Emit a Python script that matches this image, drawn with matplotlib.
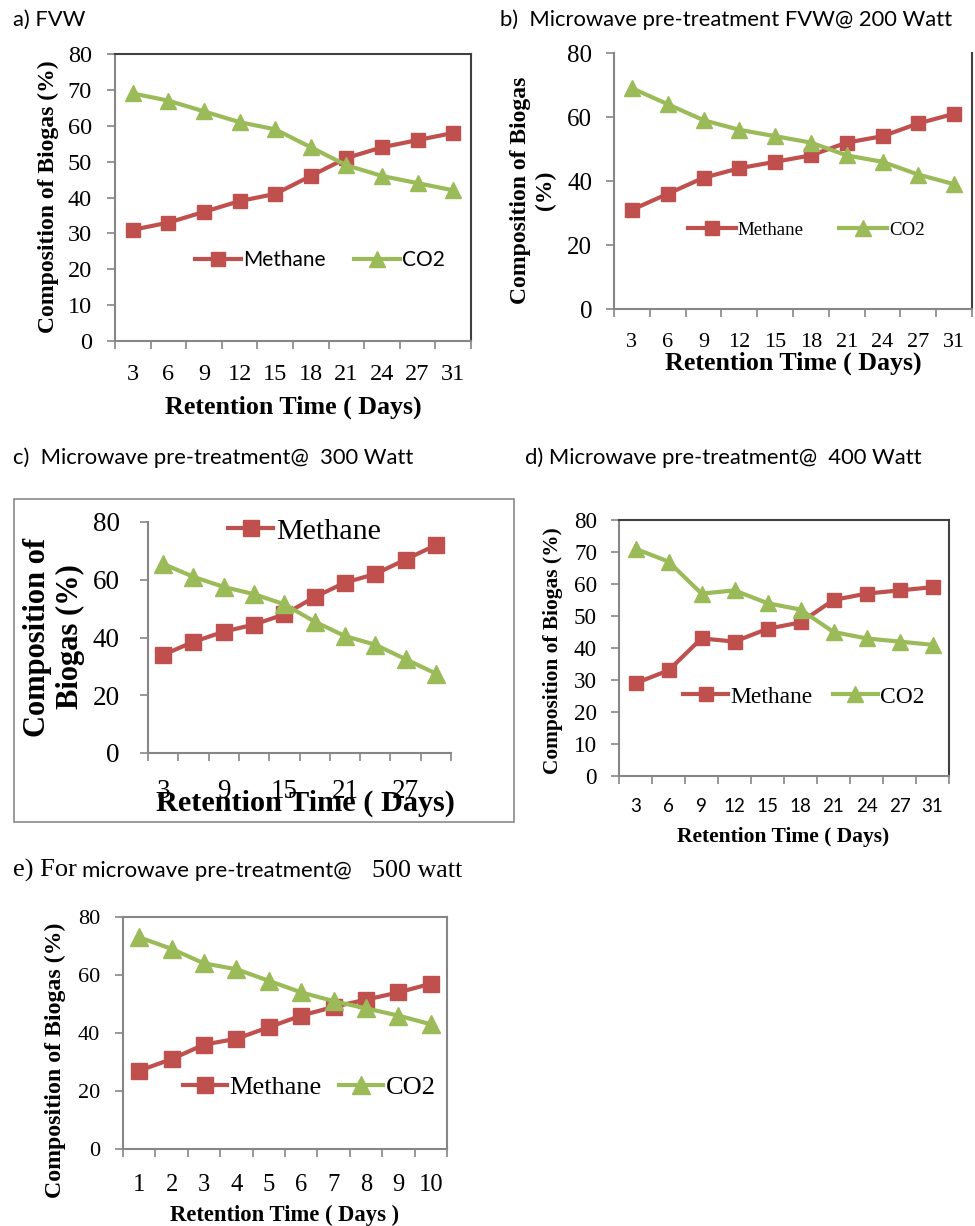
import matplotlib
matplotlib.use('Agg')
import matplotlib.pyplot as plt
from matplotlib.patches import Rectangle

W, H = 975, 1226
SERIF = 'Liberation Serif'
SANS = 'Lato'
RED, GREEN = '#C0504D', '#9BBB59'
AXC = '#868686'
BORDER = '#404040'

# data
days = ['3', '6', '9', '12', '15', '18', '21', '24', '27', '31']
days_c = ['3', '', '9', '', '15', '', '21', '', '27', '']
days_e = ['1', '2', '3', '4', '5', '6', '7', '8', '9', '10']

methane_a = [31, 33, 36, 39, 41, 46, 51, 54, 56, 58]
co2_a = [69, 67, 64, 61, 59, 54, 49, 46, 44, 42]
methane_b = [31, 36, 41, 44, 46, 48, 52, 54, 58, 61]
co2_b = [69, 64, 59, 56, 54, 52, 48, 46, 42, 39]
methane_c = [34, 38.5, 42, 44.5, 48, 54, 59, 62, 67, 72]
co2_c = [65.5, 61, 57.5, 55, 51.5, 45.5, 40.5, 37.5, 32.5, 27.5]
methane_d = [29, 33, 43, 42, 46, 48, 55, 57, 58, 59]
co2_d = [71, 67, 57, 58, 54, 52, 45, 43, 42, 41]
methane_e = [27, 31, 36, 38, 42, 46, 49, 51.5, 54, 57]
co2_e = [73, 69, 64, 62, 58, 54, 51, 48.5, 46, 43]

fig = plt.figure(figsize=(W / 100, H / 100), dpi=100)


def px_axes(x0, y0, x1, y1):
    return fig.add_axes([x0 / W, 1 - y1 / H, (x1 - x0) / W, (y1 - y0) / H])


def ftext(x, y, s, **kw):
    fig.text(x / W, 1 - y / H, s, **kw)


def panel(box, labels, meth, co2, ystep, ytick_fs, xtick_fs, xtick_family, ypad, xpad, ms,
          border=None):
    ax = px_axes(*box)
    n = len(labels)
    x = list(range(1, n + 1))
    ax.plot(x, meth, color=RED, lw=3, marker='s', ms=ms, label='Methane', zorder=3)
    ax.plot(x, co2, color=GREEN, lw=3, marker='^', ms=ms + 1.5, label='CO2', zorder=4)
    ax.set_xlim(0.5, n + 0.5)
    ax.set_ylim(0, 80)
    ax.set_xticks([i + 0.5 for i in range(n + 1)])
    ax.set_xticklabels([])
    ax.set_xticks(x, minor=True)
    ax.set_xticklabels(labels, minor=True, fontsize=xtick_fs, family=xtick_family)
    ax.tick_params(axis='x', which='major', length=5.8, width=1.2, color=AXC, direction='out')
    ax.tick_params(axis='x', which='minor', length=0, pad=xpad)
    ax.set_yticks(range(0, 81, ystep))
    ax.set_yticklabels([str(v) for v in range(0, 81, ystep)], fontsize=ytick_fs, family=SERIF)
    ax.tick_params(axis='y', length=5.8, width=1.2, color=AXC, pad=ypad)
    for s in ['left', 'bottom']:
        ax.spines[s].set_color(AXC)
        ax.spines[s].set_linewidth(1.5)
    for s in ['top', 'right']:
        if border and s in border:
            ax.spines[s].set_color(border[s])
            ax.spines[s].set_linewidth(1.5)
        else:
            ax.spines[s].set_visible(False)
    return ax


def legend(ax, x_left, y_center, fs, family, handle_px, col_px, which=('Methane', 'CO2')):
    em = fs / 72 * 100
    h, l = ax.get_legend_handles_labels()
    keep = [(hh, ll) for hh, ll in zip(h, l) if ll in which]
    ax.legend([k[0] for k in keep], [k[1] for k in keep], loc='center left',
              bbox_to_anchor=(x_left / W, 1 - y_center / H), bbox_transform=fig.transFigure,
              frameon=False, prop={'family': family, 'size': fs}, handlelength=handle_px / em,
              handletextpad=0.1, columnspacing=col_px / em, borderpad=0, borderaxespad=0,
              ncol=2, numpoints=1)


TITLE_FS = 15.8

# a) FVW
ax = panel((115, 54, 471, 341), days, methane_a, co2_a, 10, 17.5, 17.5, SERIF, 10.8, 16.5, 10.5,
           border={'top': BORDER, 'right': BORDER})
legend(ax, 195, 260, 15, SANS, 46, 28)
ftext(13, 20, 'a) FVW', family=SANS, fontsize=TITLE_FS, va='center')
ftext(48, 197, 'Composition of Biogas (%)', family=SERIF, weight='bold', fontsize=17,
      rotation=90, ha='center', va='center')
ftext(293, 407, 'Retention Time ( Days)', family=SERIF, weight='bold', fontsize=18.7,
      ha='center', va='center')

# b) 200 W
ax = panel((614, 53, 972, 309), days, methane_b, co2_b, 20, 18, 16, SERIF, 10, 17, 10.5,
           border={'right': BORDER})
legend(ax, 688, 230, 13.6, SERIF, 48, 35)
ftext(500, 20, 'b)  Microwave pre-treatment FVW@ 200 Watt', family=SANS, fontsize=TITLE_FS,
      va='center')
ftext(533, 190, 'Composition of Biogas\n(%)', family=SERIF, weight='bold', fontsize=17,
      rotation=90, ha='center', va='center', linespacing=1.25, multialignment='center')
ftext(793, 363, 'Retention Time ( Days)', family=SERIF, weight='bold', fontsize=18.7,
      ha='center', va='center')

# c) 300 W
fig.patches.append(Rectangle((14 / W, 1 - 822 / H), 500 / W, 323 / H, transform=fig.transFigure,
                             fill=False, edgecolor='#8a8a8a', lw=1.2))
ax = panel((148, 522, 451, 753), days_c, methane_c, co2_c, 20, 19.5, 19.5, SERIF, 14.4, 18.7, 12)
legend(ax, 228, 531, 21.6, SERIF, 45, 20, which=('Methane',))
ftext(13, 458, 'c)  Microwave pre-treatment@  300 Watt', family=SANS, fontsize=TITLE_FS,
      va='center')
ftext(54, 637, 'Composition of\nBiogas (%)', family=SERIF, weight='bold', fontsize=22,
      rotation=90, ha='center', va='center', linespacing=1.15, multialignment='center')
ftext(305, 803, 'Retention Time ( Days)', family=SERIF, weight='bold', fontsize=21.8,
      ha='center', va='center')

# d) 400 W
ax = panel((619, 520, 949, 776), days, methane_d, co2_d, 10, 16.7, 13.5, SANS, 10, 16, 10.5,
           border={'top': BORDER, 'right': BORDER})
legend(ax, 683, 697, 16.9, SERIF, 45, 20)
ftext(525, 458, 'd) Microwave pre-treatment@  400 Watt', family=SANS, fontsize=TITLE_FS,
      va='center')
ftext(553, 651, 'Composition of Biogas (%)', family=SERIF, weight='bold', fontsize=15.4,
      rotation=90, ha='center', va='center')
ftext(783, 837, 'Retention Time ( Days)', family=SERIF, weight='bold', fontsize=15.5,
      ha='center', va='center')

# e) 500 W
ax = panel((123, 917, 447, 1149), days_e, methane_e, co2_e, 20, 16, 17.7, SERIF, 10.8, 18, 11,
           border={'top': AXC, 'right': AXC})
legend(ax, 183, 1087, 19, SERIF, 44, 17)
ftext(13, 877, 'e) For', family=SERIF, fontsize=19, va='baseline')
ftext(82, 877, 'microwave pre-treatment@', family=SANS, fontsize=16, va='baseline')
ftext(372, 877, '500 watt', family=SERIF, fontsize=18.7, va='baseline')
ftext(55, 1060, 'Composition of Biogas (%)', family=SERIF, weight='bold', fontsize=17.2,
      rotation=90, ha='center', va='center')
ftext(285, 1215, 'Retention Time ( Days )', family=SERIF, weight='bold', fontsize=16.3,
      ha='center', va='center')

fig.savefig('out.png', dpi=100)
